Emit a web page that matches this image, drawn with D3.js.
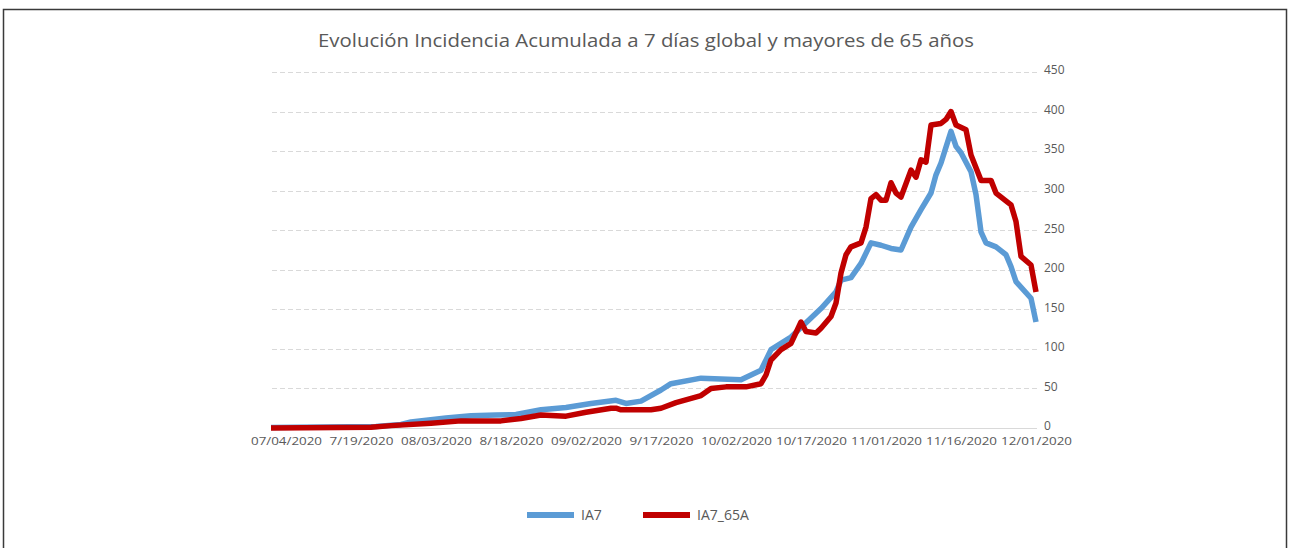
<!DOCTYPE html>
<html>
<head>
<meta charset="utf-8">
<script src="https://cdn.jsdelivr.net/npm/d3@7"></script>
<style>
  body { margin: 0; background: #fff; }
  svg text { font-family: "Open Sans", "Liberation Sans", sans-serif; }
</style>
</head>
<body>
<div id="chart"></div>
<script>
// IA7 (global) - dates and values
var ia7Dates = ["2020-07-01","2020-07-22","2020-07-27","2020-07-29","2020-08-05","2020-08-10","2020-08-15","2020-08-19","2020-08-24","2020-08-29",
  "2020-09-03","2020-09-08","2020-09-10","2020-09-13","2020-09-17","2020-09-19","2020-09-25","2020-09-29","2020-10-03","2020-10-05",
  "2020-10-07","2020-10-09","2020-10-13","2020-10-16","2020-10-19","2020-10-22","2020-10-23","2020-10-25","2020-10-27","2020-10-29",
  "2020-10-31","2020-11-02","2020-11-04","2020-11-06","2020-11-08","2020-11-10","2020-11-11","2020-11-12","2020-11-13","2020-11-14",
  "2020-11-15","2020-11-16","2020-11-18","2020-11-19","2020-11-20","2020-11-21","2020-11-23","2020-11-25","2020-11-26","2020-11-27",
  "2020-11-30","2020-12-01"];
var ia7Values = [0.5,2,4.5,7.6,12.6,15.5,16.4,17,23,26,
  31,35,31,34,48,56,63,62,61,67,
  73,99,115,133,151,172,187,190,208,234,
  231,227,225,254,276,297,320,335,355,375,
  356,348,324,295,248,234,229,219,204,185,
  164,134];

// IA7_65A (mayores de 65)
var ia65Dates = ["2020-07-01","2020-07-21","2020-07-25","2020-08-02","2020-08-08","2020-08-16","2020-08-20","2020-08-24","2020-08-29","2020-09-02",
  "2020-09-07","2020-09-08","2020-09-09","2020-09-15","2020-09-17","2020-09-20","2020-09-25","2020-09-27","2020-09-30","2020-10-04",
  "2020-10-07","2020-10-08","2020-10-09","2020-10-11","2020-10-13","2020-10-15","2020-10-16","2020-10-18","2020-10-19","2020-10-21",
  "2020-10-22","2020-10-23","2020-10-24","2020-10-25","2020-10-27","2020-10-28","2020-10-29","2020-10-30","2020-10-31","2020-11-01",
  "2020-11-02","2020-11-03","2020-11-04","2020-11-06","2020-11-07","2020-11-08","2020-11-09","2020-11-10","2020-11-12","2020-11-13",
  "2020-11-14","2020-11-15","2020-11-17","2020-11-18","2020-11-20","2020-11-22","2020-11-23","2020-11-26","2020-11-27","2020-11-28",
  "2020-11-30","2020-12-01"];
var ia65Values = [0,1,3,6,9,9,12,16.5,15,20,
  25,25,23,23,25,32,41,50,52,52,
  56,67,86,99,107,134,122,120,126,141,
  158,196,219,229,234,254,290,295,288,288,
  310,297,292,326,317,339,336,383,385,390,
  400,383,377,345,313,313,297,282,261,217,
  206,172];

var tickDates = ["2020-07-04","2020-07-19","2020-08-03","2020-08-18","2020-09-02","2020-09-17","2020-10-02","2020-10-17","2020-11-01","2020-11-16","2020-12-01"];
var tickLabels = ["07/04/2020","7/19/2020","08/03/2020","8/18/2020","09/02/2020","9/17/2020","10/02/2020","10/17/2020","11/01/2020","11/16/2020","12/01/2020"];
var yTicks = [0,50,100,150,200,250,300,350,400,450];

var seriesNames = ["IA7","IA7_65A"];
var seriesColors = ["#5B9BD5","#C00000"];

var width = 1290, height = 548;
var parse = d3.timeParse("%Y-%m-%d");

var svg = d3.select("#chart").append("svg")
  .attr("width", width)
  .attr("height", height);

// chart frame
svg.append("rect")
  .attr("x", 3.5).attr("y", 9.5)
  .attr("width", 1283).attr("height", 600)
  .attr("fill", "#fff")
  .attr("stroke", "#3a3a3a")
  .attr("stroke-width", 1.5);

var x = d3.scaleTime()
  .domain([parse("2020-07-01"), parse("2020-12-01")])
  .range([271, 1036]);
var y = d3.scaleLinear()
  .domain([0, 450])
  .range([428, 72]);

// gridlines
svg.append("g")
  .selectAll("line")
  .data(yTicks.filter(function(d){ return d > 0; }))
  .enter().append("line")
  .attr("x1", 272).attr("x2", 1037)
  .attr("y1", function(d){ return Math.round(y(d)) + 0.5; })
  .attr("y2", function(d){ return Math.round(y(d)) + 0.5; })
  .attr("stroke", "#d9d9d9")
  .attr("stroke-dasharray", "5,3");

// x axis line
svg.append("line")
  .attr("x1", 272).attr("x2", 1037)
  .attr("y1", Math.round(y(0)) + 0.5).attr("y2", Math.round(y(0)) + 0.5)
  .attr("stroke", "#d9d9d9");

// y labels on the right
var yAxis = d3.axisRight(y).tickValues(yTicks).tickSize(0).tickPadding(0);
var gy = svg.append("g")
  .attr("transform", "translate(1044,-2)")
  .call(yAxis);
gy.select(".domain").remove();
gy.selectAll("text")
  .attr("fill", "#595959")
  .style("font-size", "12px");

// x labels
var xAxis = d3.axisBottom(x)
  .tickValues(tickDates.map(parse))
  .tickFormat(function(d, i){ return tickLabels[i]; })
  .tickSize(0).tickPadding(9);
var gx = svg.append("g")
  .attr("transform", "translate(0," + y(0) + ")")
  .call(xAxis);
gx.select(".domain").remove();
gx.selectAll("text")
  .attr("fill", "#595959")
  .style("font-size", "11px")
  .attr("textLength", function(d, i){ return tickLabels[i].length === 10 ? 71 : 64; })
  .attr("lengthAdjust", "spacingAndGlyphs");

// lines
var line = d3.line()
  .x(function(d){ return x(d[0]); })
  .y(function(d){ return y(d[1]); });

var ia7 = ia7Dates.map(function(d, i){ return [parse(d), ia7Values[i]]; });
var ia65 = ia65Dates.map(function(d, i){ return [parse(d), ia65Values[i]]; });

[ia7, ia65].forEach(function(s, i){
  svg.append("path")
    .datum(s)
    .attr("d", line)
    .attr("fill", "none")
    .attr("stroke", seriesColors[i])
    .attr("stroke-width", 5.5)
    .attr("stroke-linejoin", "round");
});

// title
svg.append("text")
  .attr("x", 646).attr("y", 47)
  .attr("text-anchor", "middle")
  .attr("fill", "#595959")
  .style("font-size", "18px")
  .attr("textLength", 656)
  .attr("lengthAdjust", "spacingAndGlyphs")
  .text("Evolución Incidencia Acumulada a 7 días global y mayores de 65 años");

// legend
var legX = [527, 643];
var leg = svg.append("g");
seriesNames.forEach(function(name, i){
  leg.append("line")
    .attr("x1", legX[i]).attr("x2", legX[i] + 47)
    .attr("y1", 515).attr("y2", 515)
    .attr("stroke", seriesColors[i])
    .attr("stroke-width", 6);
  leg.append("text")
    .attr("x", legX[i] + 54).attr("y", 520)
    .attr("fill", "#595959")
    .style("font-size", "14px")
    .text(name);
});
</script>
</body>
</html>
